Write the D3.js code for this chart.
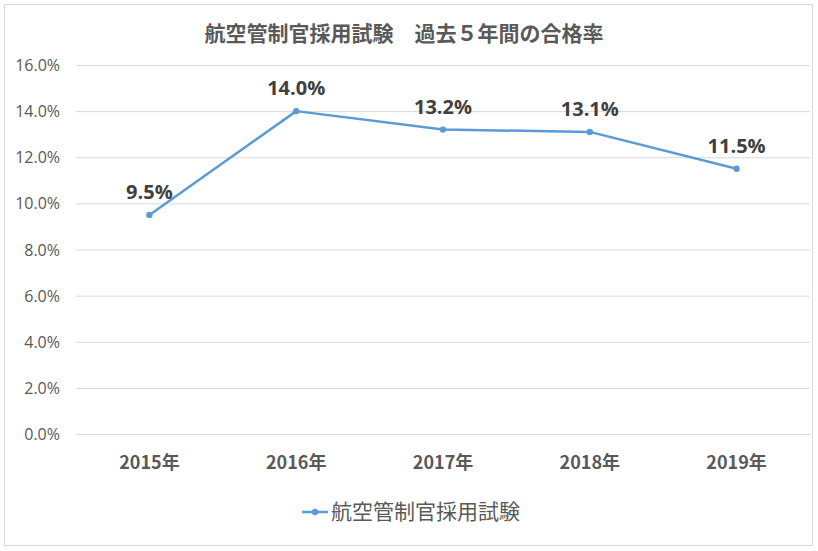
<!DOCTYPE html>
<html><head><meta charset="utf-8">
<script src="https://cdn.jsdelivr.net/npm/d3@7"></script>
<style>body{margin:0;background:#fff}svg{display:block}</style>
</head><body>
<svg id="c" width="818" height="551"></svg>
<script>
const categories = ["2015年","2016年","2017年","2018年","2019年"];
const values = [9.5, 14.0, 13.2, 13.1, 11.5];
const yTicks = [0,2,4,6,8,10,12,14,16];
const seriesName = "航空管制官採用試験";
const title = "航空管制官採用試験　過去５年間の合格率";

const svg = d3.select("#c");
const font = "'Noto Sans CJK JP','Noto Sans',sans-serif";
const numFont = "'Open Sans','Noto Sans',sans-serif";
svg.append("rect").attr("x",4.5).attr("y",4.5).attr("width",808).attr("height",541)
  .attr("fill","#fff").attr("stroke","#d9d9d9");

const x = d3.scaleBand().domain(categories).range([76,810]);
const y = d3.scaleLinear().domain([0,16]).range([434,65]);

svg.append("g").selectAll("line").data(yTicks).join("line")
  .attr("x1",76).attr("x2",810).attr("y1",d=>y(d)+0.5).attr("y2",d=>y(d)+0.5)
  .attr("stroke","#d9d9d9").attr("stroke-width",1);

const yAxis = d3.axisLeft(y).tickValues(yTicks).tickSize(0).tickPadding(0).tickFormat(d=>d.toFixed(1)+"%");
const ya = svg.append("g").attr("transform","translate(60,0)").call(yAxis);
ya.select(".domain").remove();
ya.selectAll("text").attr("font-family",numFont).attr("font-size",16).attr("fill","#595959").attr("dy","0.35em");

const xAxis = d3.axisBottom(x).tickSize(0).tickPadding(0);
const xa = svg.append("g").attr("transform","translate(0,456)").call(xAxis);
xa.select(".domain").remove();
xa.selectAll("text").attr("font-family",font).attr("font-size",18).attr("font-weight","bold").attr("fill","#595959").attr("dy","0.71em");

const line = d3.line().x((d,i)=>x(categories[i])+x.bandwidth()/2).y(d=>y(d));
svg.append("path").datum(values).attr("d",line).attr("fill","none")
  .attr("stroke","#5B9BD5").attr("stroke-width",2.5).attr("stroke-linejoin","round");
svg.append("g").selectAll("circle").data(values).join("circle")
  .attr("cx",(d,i)=>x(categories[i])+x.bandwidth()/2).attr("cy",d=>y(d)).attr("r",3.2).attr("fill","#5B9BD5");

svg.append("g").selectAll("text").data(values).join("text")
  .attr("x",(d,i)=>x(categories[i])+x.bandwidth()/2).attr("y",d=>y(d)-16)
  .attr("text-anchor","middle").attr("font-family",numFont)
  .attr("font-size",20).attr("font-weight","bold").attr("fill","#404040")
  .text(d=>d.toFixed(1)+"%");

svg.append("text").attr("x",404).attr("y",41).attr("text-anchor","middle")
  .attr("font-family",font).attr("font-size",21).attr("font-weight","bold").attr("fill","#595959").text(title);

const lg = svg.append("g");
lg.append("line").attr("x1",302).attr("x2",328).attr("y1",512).attr("y2",512).attr("stroke","#5B9BD5").attr("stroke-width",2.5);
lg.append("circle").attr("cx",315).attr("cy",512).attr("r",3.2).attr("fill","#5B9BD5");
lg.append("text").attr("x",331).attr("y",519).attr("font-family",font).attr("font-size",21).attr("fill","#595959").text(seriesName);
</script>
</body></html>
